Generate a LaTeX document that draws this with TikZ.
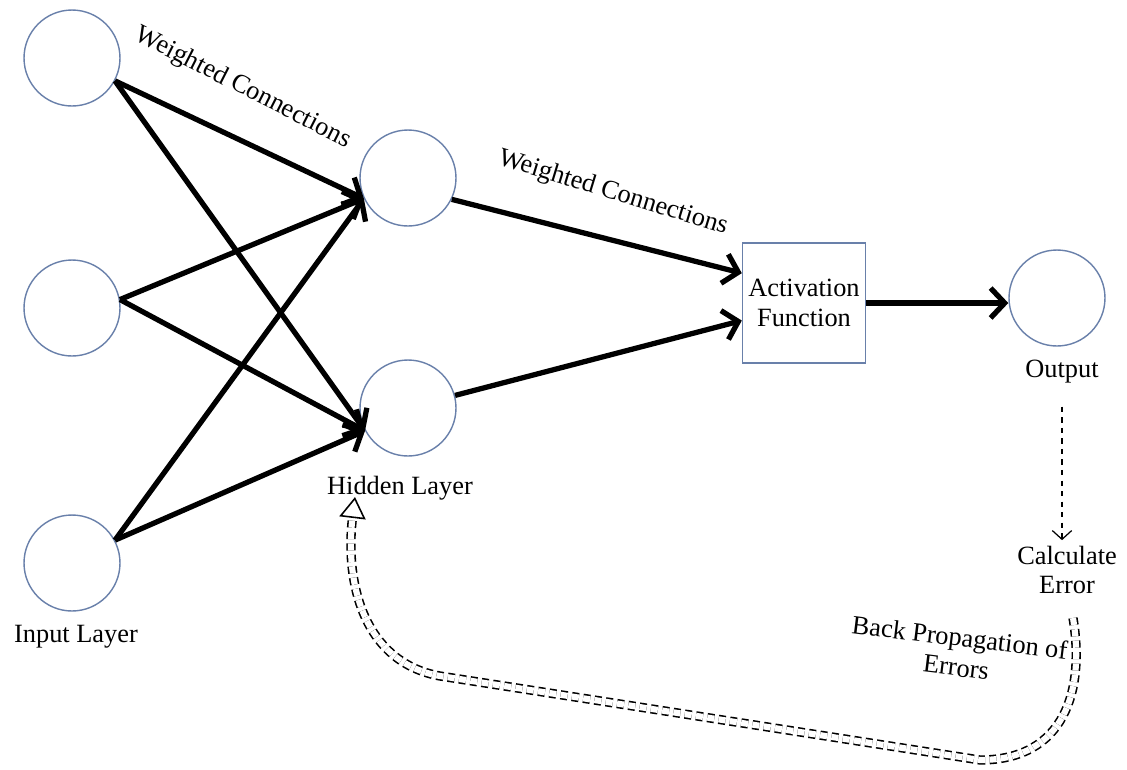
\documentclass[tikz,border=0pt]{standalone}
\usepackage{fontspec}
\setmainfont{Liberation Serif}
\usetikzlibrary{arrows.meta}
\definecolor{ringblue}{RGB}{105,128,170}
\tikzset{
  neuron/.style={circle, draw=ringblue, line width=0.8pt, fill=white, minimum size=1.92cm, inner sep=0pt},
  actbox/.style={rectangle, draw=ringblue, line width=0.8pt, fill=white, minimum width=2.42cm, minimum height=2.4cm, align=center, font=\fontsize{15}{17}\selectfont},
  lab/.style={font=\fontsize{15}{17}\selectfont, align=center, inner sep=1pt},
  wire/.style={line width=3pt, -{Straight Barb[length=8pt,width=17pt]}},
  errline/.style={dashed, line width=0.7pt, -{Straight Barb[length=5pt,width=11pt]}},
  backline/.style={dash pattern=on 4pt off 2.5pt, draw=black, double=white, double distance=3.5pt, line width=0.9pt, -{Triangle[open,length=12pt,width=15pt]}}
}

\begin{document}
\begin{tikzpicture}[x=0.02cm, y=-0.02cm]
\useasboundingbox (0,0) rectangle (1127,769);
% input layer
\node[neuron] (in1) at (72,58) {};
\node[neuron] (in2) at (72,308) {};
\node[neuron] (in3) at (72,563) {};
\node[lab] (inlab) at (76,637) {Input Layer};
% hidden layer
\node[neuron] (hid1) at (408,178) {};
\node[neuron] (hid2) at (408,408) {};
\node[lab] (hidlab) at (400,488) {Hidden Layer};
% activation and output
\node[actbox] (act) at (804,303) {Activation\\Function};
\node[neuron] (out) at (1057,298) {};
\node[lab] (outlab) at (1062,372) {Output};
\node[lab] (calc) at (1067,570) {Calculate\\Error};
\node[lab, rotate=-27] (wc1) at (243,88) {Weighted Connections};
\node[lab, rotate=-17] (wc2) at (613,193) {Weighted Connections};
\node[lab, rotate=-7] (bplab) at (958,652) {Back Propagation of\\Errors};

\draw[wire] (in1.-28) -- (hid1.205);
\draw[wire] (in1.-28) -- (hid2.208);
\draw[wire] (in2.10) -- (hid1.205);
\draw[wire] (in2.10) -- (hid2.208);
\draw[wire] (in3.28) -- (hid1.205);
\draw[wire] (in3.28) -- (hid2.208);
\draw[wire] (hid1.-26) -- ([yshift=17pt]act.west);
\draw[wire] (hid2.15) -- ([yshift=-10pt]act.west);
\draw[wire] (act.east) -- (act.east -| out.west);
\draw[errline, shorten <=12pt, shorten >=2pt] (outlab.south) -- (outlab.south |- calc.north);

% back propagation
\coordinate (bpstart) at (1073,618);
\coordinate (bpend) at (355,497);
\draw[backline] (bpstart) .. controls (1085,690) and (1065,760) .. (980,760) -- (440,676) .. controls (362,662) and (345,580) .. (bpend);
\end{tikzpicture}
\end{document}
